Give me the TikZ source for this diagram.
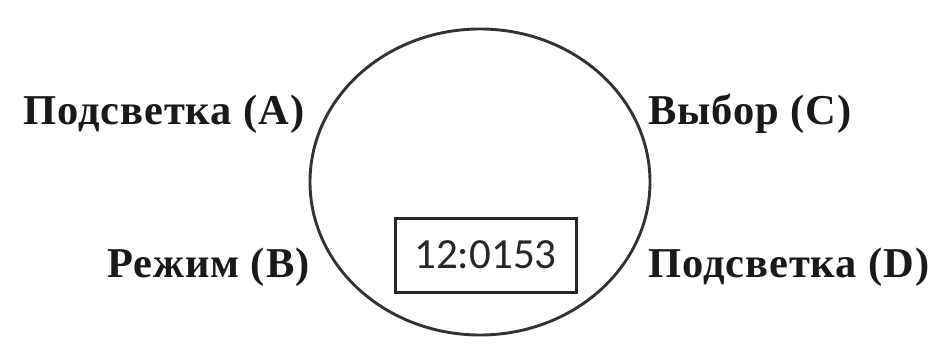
\documentclass[tikz,border=0pt]{standalone}
\usepackage{fontspec}
\setmainfont{Liberation Serif}
\newfontfamily\lblfont[LetterSpace=2.2]{Liberation Serif}
\newfontfamily\digitfont{Carlito}
\begin{document}
\begin{tikzpicture}[x=1pt,y=1pt,
  lbl/.style={anchor=base west,inner sep=0pt,font=\lblfont\fontsize{42.5}{42.5}\selectfont\bfseries,text=black!90},
  ring/.style={draw=black!80,line width=2.9pt},
  screen/.style={draw=black!85,line width=3pt,minimum width=181pt,minimum height=74pt,inner sep=0pt,font=\digitfont\fontsize{43}{43}\selectfont,text=black!85}]
\useasboundingbox (0,0) rectangle (933,343);
\fill[white] (0,0) rectangle (933,343);
\draw[ring] (480,161) ellipse [x radius=170, y radius=153];
\node[screen] (disp) at (485.5,88) {12:0153};
\node[lbl] (a) at (23,218) {Подсветка (A)};
\node[lbl] (c) at (648,218) {Выбор (C)};
\node[lbl] (b) at (107,66) {Режим (B)};
\node[lbl] (d) at (648,66) {Подсветка (D)};
\end{tikzpicture}
\end{document}
